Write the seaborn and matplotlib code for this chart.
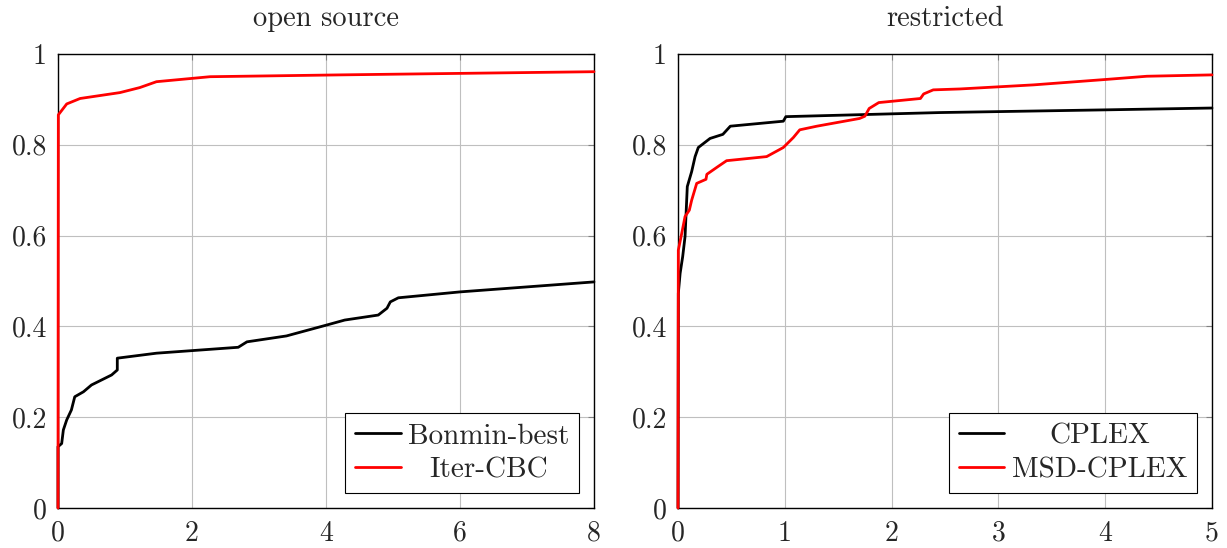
import pandas as pd
import seaborn as sns
import matplotlib.pyplot as plt

# open source panel
bonmin_x = [0, 0, 0.055, 0.08, 0.13, 0.20, 0.25, 0.38, 0.50, 0.80, 0.885, 0.885, 1.47,
            2.69, 2.82, 3.41, 4.01, 4.28, 4.78, 4.91, 4.96, 5.08, 6.0, 8.0]
bonmin_y = [0, 0.135, 0.142, 0.172, 0.194, 0.216, 0.245, 0.256, 0.271, 0.293, 0.304, 0.33, 0.341,
            0.354, 0.366, 0.379, 0.403, 0.414, 0.425, 0.44, 0.454, 0.463, 0.476, 0.498]
itercbc_x = [0, 0.005, 0.13, 0.33, 0.925, 1.22, 1.47, 2.27, 4.21, 8.0]
itercbc_y = [0, 0.866, 0.89, 0.902, 0.915, 0.926, 0.939, 0.95, 0.954, 0.961]

# restricted panel
cplex_x = [0, 0.003, 0.02, 0.044, 0.066, 0.087, 0.128, 0.16, 0.19, 0.30, 0.42, 0.49, 0.986,
           1.01, 2.45, 4.01, 5.0]
cplex_y = [0, 0.473, 0.517, 0.554, 0.598, 0.708, 0.741, 0.774, 0.794, 0.814, 0.823, 0.841, 0.852,
           0.862, 0.871, 0.877, 0.881]
msd_x = [0, 0.003, 0.035, 0.066, 0.106, 0.128, 0.175, 0.262, 0.27, 0.38, 0.455, 0.83, 0.986,
         1.08, 1.14, 1.30, 1.70, 1.75, 1.79, 1.88, 2.27, 2.30, 2.39, 2.64, 3.33, 4.01, 4.39, 5.0]
msd_y = [0, 0.568, 0.605, 0.642, 0.656, 0.678, 0.715, 0.724, 0.735, 0.753, 0.765, 0.774, 0.794,
         0.816, 0.833, 0.841, 0.858, 0.863, 0.880, 0.893, 0.902, 0.912, 0.921, 0.923, 0.932, 0.944,
         0.951, 0.954]

y_ticks = [0, 0.2, 0.4, 0.6, 0.8, 1]
y_labels = ["0", "0.2", "0.4", "0.6", "0.8", "1"]
FS = 20


def make_df(series):
    frames = []
    for name, xs, ys in series:
        frames.append(pd.DataFrame({"x": xs, "y": ys, "solver": name, "order": range(len(xs))}))
    return pd.concat(frames, ignore_index=True)


sns.set_style("whitegrid")
plt.rcParams["font.family"] = ["cmr10", "DejaVu Serif"]
plt.rcParams["mathtext.fontset"] = "cm"
plt.rcParams["axes.formatter.use_mathtext"] = True

fig = plt.figure(figsize=(12.27, 5.48), dpi=100)
ax1 = fig.add_axes([58 / 1227, 40 / 548, 536 / 1227, 454 / 548])
ax2 = fig.add_axes([678 / 1227, 40 / 548, 534 / 1227, 454 / 548])

panels = [
    (ax1, "open source", [("Bonmin-best", bonmin_x, bonmin_y), ("Iter-CBC", itercbc_x, itercbc_y)],
     8, [0, 2, 4, 6, 8]),
    (ax2, "restricted", [("CPLEX", cplex_x, cplex_y), ("MSD-CPLEX", msd_x, msd_y)],
     5, [0, 1, 2, 3, 4, 5]),
]

legends = []
for ax, title, series, xmax, xticks in panels:
    df = make_df(series)
    names = [s[0] for s in series]
    sns.lineplot(data=df, x="x", y="y", hue="solver", hue_order=names,
                 palette=["black", "red"], sort=False, estimator=None,
                 linewidth=2, ax=ax)
    for ln in ax.get_lines():
        ln.set_clip_on(False)
        ln.set_zorder(3)
    ax.set_xlim(0, xmax)
    ax.set_ylim(0, 1)
    ax.set_xticks(xticks)
    ax.set_xticklabels([str(t) for t in xticks])
    ax.set_yticks(y_ticks)
    ax.set_yticklabels(y_labels)
    ax.set_xlabel("")
    ax.set_ylabel("")
    ax.set_title(title, fontsize=20.5, pad=20)
    ax.grid(True, color="#bfbfbf", linewidth=0.8)
    ax.tick_params(direction="in", length=4, labelsize=FS, top=True, right=True,
                   color="#808080")
    ax.tick_params(axis="x", pad=9)
    ax.tick_params(axis="y", pad=8)
    for sp in ax.spines.values():
        sp.set_color("black")
        sp.set_linewidth(1.0)
    leg = ax.legend(loc="lower right", fontsize=21, frameon=True, fancybox=False,
                    edgecolor="black", framealpha=1, handlelength=1.55,
                    handletextpad=0.25, borderaxespad=0.5, labelspacing=0.25,
                    borderpad=0.35)
    leg.get_frame().set_linewidth(0.8)
    legends.append(leg)

# centre the legend entries like pgfplots does
renderer = fig.canvas.get_renderer()
for leg in legends:
    texts = leg.get_texts()
    widths = [t.get_window_extent(renderer).width for t in texts]
    wmax = max(widths)
    for t, w in zip(texts, widths):
        t.set_position(((wmax - w) / 2, 0))

fig.savefig("out.png", dpi=100)
